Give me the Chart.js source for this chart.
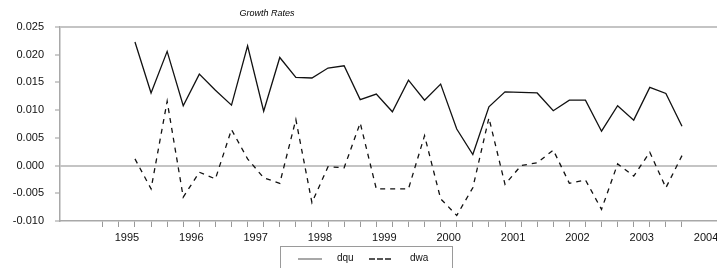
<!DOCTYPE html>
<html>
<head>
<meta charset="utf-8">
<script src="https://cdn.jsdelivr.net/npm/chart.js@4.4.1/dist/chart.umd.min.js"></script>
<style>
  html, body { margin: 0; padding: 0; background: #fff; overflow: hidden; }
  #wrap { position: relative; width: 760px; height: 268px; }
  #subtitle {
    position: absolute; left: 267px; top: 8px; transform: translateX(-50%);
    font: italic 9px "Liberation Sans", Arial, sans-serif; color: #000; white-space: nowrap;
  }
  #legend {
    position: absolute; left: 280px; top: 246px; width: 173px; height: 30px;
    border: 1px solid #9a9a9a; box-sizing: border-box;
    font: 10px "Liberation Sans", Arial, sans-serif; color: #111;
  }
  #legend .sample { position: absolute; top: 11px; height: 0; }
  #legend .txt { position: absolute; top: 5px; }
</style>
</head>
<body>
<div id="wrap">
  <canvas id="chart"></canvas>
  <div id="subtitle">Growth Rates</div>
  <div id="legend">
    <div class="sample" style="left:17px;width:24px;border-top:2px solid #a8a8a8"></div>
    <div class="txt" style="left:56px">dqu</div>
    <div class="sample" style="left:88px;width:22px;border-top:2px dashed #555"></div>
    <div class="txt" style="left:129px">dwa</div>
  </div>
</div>
<script>
const firstYear = 1995;
const quarters = [
  '1995Q1', '1995Q2', '1995Q3', '1995Q4', '1996Q1', '1996Q2', '1996Q3', '1996Q4',
  '1997Q1', '1997Q2', '1997Q3', '1997Q4', '1998Q1', '1998Q2', '1998Q3', '1998Q4',
  '1999Q1', '1999Q2', '1999Q3', '1999Q4', '2000Q1', '2000Q2', '2000Q3', '2000Q4',
  '2001Q1', '2001Q2', '2001Q3', '2001Q4', '2002Q1', '2002Q2', '2002Q3', '2002Q4',
  '2003Q1', '2003Q2', '2003Q3'
];
const dqu = [
  0.0223, 0.0131, 0.0206, 0.0108, 0.0165, 0.0136, 0.0109, 0.0216,
  0.0098, 0.0195, 0.0159, 0.0158, 0.0176, 0.0180, 0.0119, 0.0129,
  0.0097, 0.0154, 0.0118, 0.0147, 0.0066, 0.0020, 0.0106, 0.0133,
  0.0132, 0.0131, 0.0099, 0.0118, 0.0118, 0.0062, 0.0108, 0.0082,
  0.0141, 0.0130, 0.0071
];
const dwa = [
  0.0012, -0.0042, 0.0116, -0.0057, -0.0012, -0.0024, 0.0065, 0.0012,
  -0.0022, -0.0032, 0.0083, -0.0067, -0.0002, -0.0004, 0.0077, -0.0042,
  -0.0042, -0.0042, 0.0054, -0.0060, -0.0090, -0.0040, 0.0086, -0.0034,
  0.0000, 0.0005, 0.0028, -0.0032, -0.0026, -0.0079, 0.0003, -0.0019,
  0.0024, -0.0040, 0.0018
];
const yearLabels = ['1995', '1996', '1997', '1998', '1999', '2000', '2001', '2002', '2003', '2004'];
const yTicks = [-0.010, -0.005, 0.000, 0.005, 0.010, 0.015, 0.020, 0.025];

const fontSpec = { family: '"Liberation Sans", Arial, sans-serif', size: 11 };

function toPoints(values) {
  return values.map((v, i) => ({ x: i, y: v }));
}

function yearPos(label) {
  return (Number(label) - firstYear) * 4 - 0.5;
}

const ctx = document.getElementById('chart').getContext('2d');
new Chart(ctx, {
  type: 'line',
  data: {
    datasets: [{
      label: 'dqu',
      data: toPoints(dqu),
      borderColor: '#111',
      borderWidth: 1.3,
      pointRadius: 0,
      tension: 0
    }, {
      label: 'dwa',
      data: toPoints(dwa),
      borderColor: '#111',
      borderWidth: 1.3,
      borderDash: [5, 5],
      pointRadius: 0,
      tension: 0
    }]
  },
  options: {
    responsive: true,
    maintainAspectRatio: false,
    animation: false,
    layout: { padding: { top: 27, right: 0, bottom: 0, left: 0 } },
    plugins: {
      legend: { display: false },
      tooltip: { enabled: false }
    },
    scales: {
      x: {
        type: 'linear',
        min: -4.66,
        max: 38.85,
        afterFit: (scale) => { scale.height = 47; },
        afterBuildTicks: (scale) => {
          const ticks = [];
          for (let i = -2; i < quarters.length; i++) {
            ticks.push({ value: i });
          }
          yearLabels.forEach((y) => ticks.push({ value: yearPos(y) }));
          ticks.sort((a, b) => a.value - b.value);
          scale.ticks = ticks;
        },
        ticks: {
          autoSkip: false,
          maxRotation: 0,
          padding: 4,
          color: '#111',
          font: fontSpec,
          callback: (value) => {
            if (Number.isInteger(value)) {
              return '';
            };
            return String(firstYear + (value + 0.5) / 4);
          }
        },
        grid: {
          drawOnChartArea: false,
          tickLength: 6,
          tickColor: (c) => Number.isInteger(c.tick.value) ? '#999' : 'rgba(0,0,0,0)'
        },
        border: { color: '#a8a8a8', width: 1.5 }
      },
      y: {
        min: -0.010,
        max: 0.025,
        afterFit: (scale) => { scale.width = 60; },
        afterBuildTicks: (scale) => {
          scale.ticks = yTicks.map((v) => ({ value: v }));
        },
        ticks: {
          padding: 11,
          color: '#111',
          font: fontSpec,
          callback: (value) => value.toFixed(3)
        },
        grid: {
          lineWidth: 2,
          tickLength: 5,
          tickWidth: 1,
          tickColor: '#999',
          color: (c) => {
            const v = c.tick.value;
            return (Math.abs(v) < 1e-9 || Math.abs(v - 0.025) < 1e-9) ? '#c4c4c4' : 'rgba(0,0,0,0)';
          }
        },
        border: { color: '#a8a8a8', width: 1.5 }
      }
    }
  }
});
</script>
</body>
</html>
